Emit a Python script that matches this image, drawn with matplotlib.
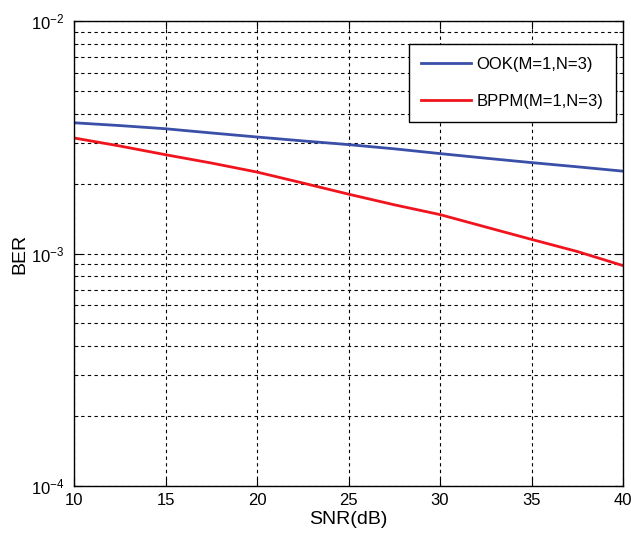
import numpy as np
import matplotlib.pyplot as plt
from matplotlib.ticker import LogLocator, NullFormatter

plt.rcParams['font.family'] = ['Liberation Sans', 'DejaVu Sans']

# SNR (dB) points
snr = [10, 12.5, 15, 17.5, 20, 22.5, 25, 27.5, 30, 32.5, 35, 37.5, 40]

# BER
ber_ook = [3.65e-3, 3.55e-3, 3.44e-3, 3.30e-3, 3.17e-3, 3.05e-3, 2.94e-3,
           2.82e-3, 2.69e-3, 2.57e-3, 2.46e-3, 2.36e-3, 2.26e-3]
ber_bppm = [3.14e-3, 2.90e-3, 2.66e-3, 2.45e-3, 2.24e-3, 2.01e-3, 1.80e-3,
            1.62e-3, 1.47e-3, 1.30e-3, 1.15e-3, 1.02e-3, 8.87e-4]

etiquetas = ['OOK(M=1,N=3)', 'BPPM(M=1,N=3)']

fig = plt.figure(figsize=(6.31, 5.39), dpi=100)
ax = fig.add_axes([74 / 631, 53 / 539, 549 / 631, 465 / 539])

ax.semilogy(snr, ber_ook, color='#3a4fa8', lw=2, label=etiquetas[0])
ax.semilogy(snr, ber_bppm, color='#f0141e', lw=2, label=etiquetas[1])

ax.set_xlim(10, 40)
ax.set_ylim(1e-4, 1e-2)
ax.set_xticks([10, 15, 20, 25, 30, 35, 40])
ax.yaxis.set_major_locator(LogLocator(base=10, numticks=10))
ax.yaxis.set_minor_locator(LogLocator(base=10, subs=np.arange(2, 10), numticks=20))
ax.yaxis.set_minor_formatter(NullFormatter())

ax.grid(True, which='major', color='black', linestyle=(0, (3, 3)), lw=0.8)
ax.grid(True, which='minor', axis='y', color='black', linestyle=(0, (3, 3)), lw=0.8)

ax.tick_params(which='both', direction='in', top=True, right=True, labelsize=12)
ax.tick_params(which='major', length=6)
ax.tick_params(which='minor', length=3)
ax.tick_params(axis='y', which='major', pad=7)
ax.tick_params(axis='x', which='major', pad=5)
for s in ax.spines.values():
    s.set_linewidth(1)

ax.set_xlabel('SNR(dB)', fontsize=14, labelpad=2)
ax.set_ylabel('BER', fontsize=14, labelpad=2)

leg = ax.legend(loc='upper right', bbox_to_anchor=(0.987, 0.9505), fontsize=12,
                fancybox=False, framealpha=1, edgecolor='black',
                handlelength=3.0, handletextpad=0.3, borderpad=0.75,
                labelspacing=1.35, borderaxespad=0)
leg.get_frame().set_linewidth(1)

plt.savefig('out.png', dpi=100)
